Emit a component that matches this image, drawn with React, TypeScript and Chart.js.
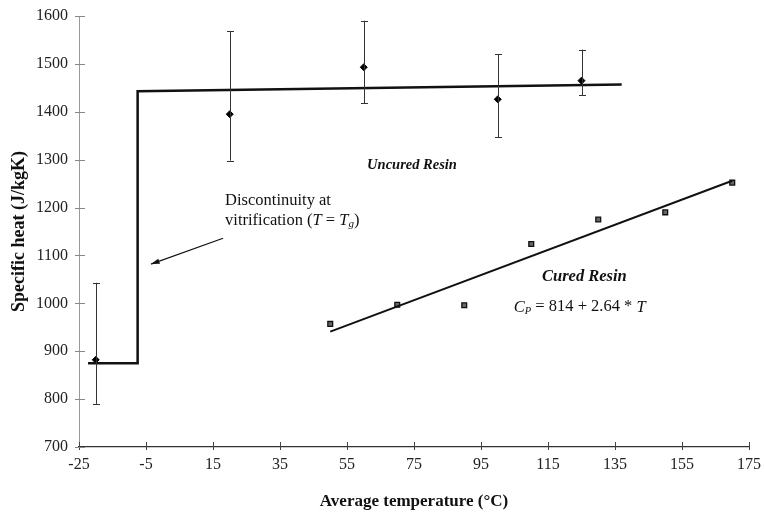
import React, { useEffect, useRef } from "react";
import { Chart, registerables } from "chart.js";

Chart.register(...registerables);

// Uncured resin measurements (mean and error bar limits)
const uncuredT = [-20, 20, 60, 100, 125];
const uncuredCp = [882, 1395, 1493, 1426, 1465];
const uncuredLow = [790, 1298, 1418, 1347, 1435];
const uncuredHigh = [1043, 1568, 1590, 1520, 1530];

// Model step line for uncured resin
const stepT = [-22.3, -7.5, -7.5, 137];
const stepCp = [875, 875, 1443, 1457];

// Cured resin measurements
const curedT = [50, 70, 90, 110, 130, 150, 170];
const curedCp = [957, 997, 996, 1124, 1175, 1190, 1252];

// Fitted line endpoints for cured resin
const fitT = [50, 170];
const fitCp = [941, 1256];

// Axis ticks
const xTicks = [-25, -5, 15, 35, 55, 75, 95, 115, 135, 155, 175];
const yTicks = [700, 800, 900, 1000, 1100, 1200, 1300, 1400, 1500, 1600];

const SERIF = "'Liberation Serif', 'DejaVu Serif', serif";

const decorPlugin = {
  id: "decor",
  afterDatasetsDraw(chart: any) {
    const ctx = chart.ctx;
    const xs = chart.scales.x;
    const ys = chart.scales.y;
    const area = chart.chartArea;
    ctx.save();

    // error bars
    ctx.strokeStyle = "#333";
    ctx.lineWidth = 1;
    uncuredT.forEach((t, i) => {
      const px = Math.round(xs.getPixelForValue(t)) + 0.5;
      const y1 = ys.getPixelForValue(uncuredLow[i]);
      const y2 = ys.getPixelForValue(uncuredHigh[i]);
      ctx.beginPath();
      ctx.moveTo(px, y1);
      ctx.lineTo(px, y2);
      ctx.moveTo(px - 3.5, Math.round(y1) + 0.5);
      ctx.lineTo(px + 3.5, Math.round(y1) + 0.5);
      ctx.moveTo(px - 3.5, Math.round(y2) + 0.5);
      ctx.lineTo(px + 3.5, Math.round(y2) + 0.5);
      ctx.stroke();
    });

    // tick marks crossing axes
    ctx.strokeStyle = "#444";
    ctx.lineWidth = 1;
    xTicks.forEach((v) => {
      const px = Math.round(xs.getPixelForValue(v)) + 0.5;
      ctx.beginPath();
      ctx.moveTo(px, area.bottom - 5);
      ctx.lineTo(px, area.bottom + 3);
      ctx.stroke();
    });
    ctx.strokeStyle = "#888";
    yTicks.forEach((v) => {
      const py = Math.round(ys.getPixelForValue(v)) + 0.5;
      ctx.beginPath();
      ctx.moveTo(area.left - 4, py);
      ctx.lineTo(area.left + 6, py);
      ctx.stroke();
    });

    // annotations
    ctx.fillStyle = "#111";
    ctx.textBaseline = "middle";
    ctx.textAlign = "left";

    const drawRuns = (x: number, y: number, runs: [string, string, number?][]) => {
      let cx = x;
      runs.forEach(([text, font, dy]) => {
        ctx.font = font;
        ctx.fillText(text, cx, y + (dy || 0));
        cx += ctx.measureText(text).width;
      });
    };

    ctx.font = `bold italic 14.5px ${SERIF}`;
    ctx.fillText("Uncured Resin", xs.getPixelForValue(61), ys.getPixelForValue(1289));
    ctx.font = `bold italic 16.5px ${SERIF}`;
    ctx.fillText("Cured Resin", xs.getPixelForValue(113.2), ys.getPixelForValue(1055));

    const reg = `16.5px ${SERIF}`;
    const ital = `italic 16.5px ${SERIF}`;
    const sub = `italic 11px ${SERIF}`;
    ctx.font = reg;
    ctx.fillText("Discontinuity at", xs.getPixelForValue(18.6), ys.getPixelForValue(1214));
    drawRuns(xs.getPixelForValue(18.6), ys.getPixelForValue(1173), [
      ["vitrification (", reg],
      ["T", ital],
      [" = ", reg],
      ["T", ital],
      ["g", sub, 4],
      [")", reg],
    ]);

    const eq = `16.5px ${SERIF}`;
    const eqI = `italic 16.5px ${SERIF}`;
    drawRuns(xs.getPixelForValue(104.8), ys.getPixelForValue(992), [
      ["C", eqI],
      ["P", `italic 10.5px ${SERIF}`, 4],
      [" = 814 + 2.64 * ", eq],
      ["T", eqI],
    ]);

    // arrow
    const ax1 = xs.getPixelForValue(18);
    const ay1 = ys.getPixelForValue(1136);
    const ax2 = xs.getPixelForValue(-3.5);
    const ay2 = ys.getPixelForValue(1082);
    ctx.strokeStyle = "#111";
    ctx.lineWidth = 1.2;
    ctx.beginPath();
    ctx.moveTo(ax1, ay1);
    ctx.lineTo(ax2, ay2);
    ctx.stroke();
    const ang = Math.atan2(ay2 - ay1, ax2 - ax1);
    ctx.beginPath();
    ctx.moveTo(ax2, ay2);
    ctx.lineTo(ax2 - 9 * Math.cos(ang - 0.3), ay2 - 9 * Math.sin(ang - 0.3));
    ctx.lineTo(ax2 - 9 * Math.cos(ang + 0.3), ay2 - 9 * Math.sin(ang + 0.3));
    ctx.closePath();
    ctx.fillStyle = "#111";
    ctx.fill();

    ctx.restore();
  },
};

export default function App() {
  const ref = useRef<HTMLCanvasElement | null>(null);

  useEffect(() => {
    document.body.style.margin = "0";
    if (!ref.current) return;
    const chart = new Chart(ref.current, {
      type: "scatter",
      data: {
        datasets: [
          {
            label: "Uncured step",
            data: stepT.map((t, i) => ({ x: t, y: stepCp[i] })),
            showLine: true,
            borderColor: "#111",
            borderWidth: 2.5,
            pointRadius: 0,
            fill: false,
          },
          {
            label: "Cured fit",
            data: fitT.map((t, i) => ({ x: t, y: fitCp[i] })),
            showLine: true,
            borderColor: "#111",
            borderWidth: 2,
            pointRadius: 0,
            fill: false,
          },
          {
            label: "Uncured Resin",
            data: uncuredT.map((t, i) => ({ x: t, y: uncuredCp[i] })),
            showLine: false,
            pointStyle: "rectRot",
            pointRadius: 3.5,
            backgroundColor: "#000",
            borderColor: "#000",
            borderWidth: 1,
          },
          {
            label: "Cured Resin",
            data: curedT.map((t, i) => ({ x: t, y: curedCp[i] })),
            showLine: false,
            pointStyle: "rect",
            pointRadius: 3.4,
            backgroundColor: "#666",
            borderColor: "#111",
            borderWidth: 1.3,
          },
        ],
      },
      options: {
        responsive: false,
        animation: false,
        layout: { padding: { top: 16, right: 15, left: 0, bottom: 0 } },
        plugins: {
          legend: { display: false },
          tooltip: { enabled: false },
        },
        scales: {
          x: {
            type: "linear",
            min: -25,
            max: 175,
            afterBuildTicks: (scale: any) => {
              scale.ticks = xTicks.map((v) => ({ value: v }));
            },
            afterFit: (scale: any) => {
              scale.height = 67;
            },
            grid: { display: false, drawTicks: true, tickLength: 8 },
            border: { display: true, color: "#333", width: 1.2 },
            ticks: {
              autoSkip: false,
              maxRotation: 0,
              padding: 0,
              color: "#222",
              font: { family: SERIF, size: 16 },
              callback: (v: any) => String(v),
            },
            title: {
              display: true,
              text: "Average temperature (°C)",
              color: "#111",
              font: { family: SERIF, size: 17, weight: "bold" },
              padding: { top: 0, bottom: 2 },
            },
          },
          y: {
            type: "linear",
            min: 700,
            max: 1600,
            afterBuildTicks: (scale: any) => {
              scale.ticks = yTicks.map((v) => ({ value: v }));
            },
            afterFit: (scale: any) => {
              scale.width = 79;
            },
            grid: { display: false, drawTicks: true, tickLength: 8 },
            border: { display: true, color: "#999", width: 1 },
            ticks: {
              autoSkip: false,
              padding: 3,
              color: "#222",
              font: { family: SERIF, size: 16 },
              callback: (v: any) => String(v),
            },
            title: {
              display: true,
              text: "Specific heat (J/kgK)",
              color: "#111",
              font: { family: SERIF, size: 18, weight: "bold" },
              padding: { top: 9, bottom: 0 },
            },
          },
        },
      },
      plugins: [decorPlugin],
    });
    return () => chart.destroy();
  }, []);

  return (
    <div style={{ width: 764, height: 514, background: "#fff" }}>
      <canvas ref={ref} width={764} height={514} style={{ display: "block" }} />
    </div>
  );
}
